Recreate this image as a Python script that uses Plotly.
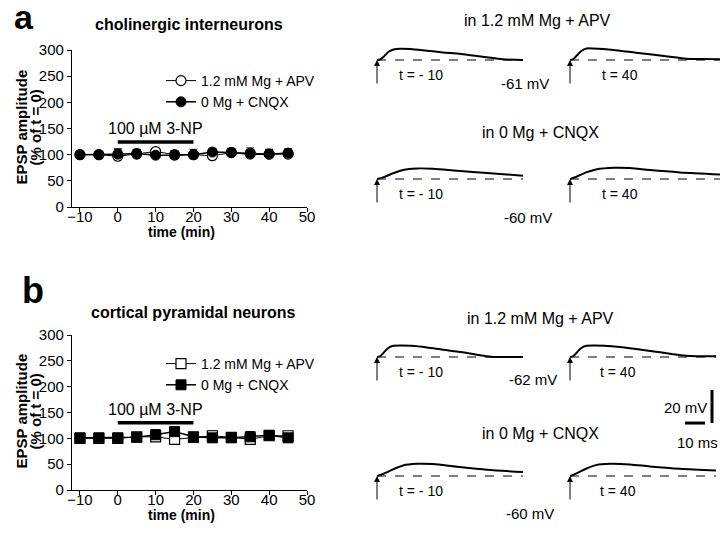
import plotly.graph_objects as go

W, H = 720, 538
FONT = "Liberation Sans, Arial, sans-serif"

# --- time course data (min, % of t = 0) ---
time_min = [-10, -5, 0, 5, 10, 15, 20, 25, 30, 35, 40, 45]

a_apv = [100, 100, 97, 101, 106, 100, 100, 98, 104, 103, 101, 101]
a_apv_err = [4, 2, 12, 8, 4, 8, 10, 8, 7, 10, 8, 8]
a_cnqx = [100, 100, 101, 102, 99, 99, 100, 105, 104, 101, 101, 103]
a_cnqx_err = [5, 2, 10, 8, 5, 7, 6, 6, 8, 6, 9, 8]

b_apv = [100, 100, 100, 103, 103, 98, 102, 105, 102, 98, 105, 105]
b_apv_err = [2, 2, 2, 8, 8, 6, 8, 10, 7, 8, 6, 5]
b_cnqx = [101, 101, 101, 102, 107, 113, 103, 101, 101, 103, 106, 101]
b_cnqx_err = [2, 2, 2, 6, 10, 4, 8, 6, 6, 10, 6, 6]

drug_on, drug_off = 0, 20
drug_label = "100 µM 3-NP"

# --- EPSP traces (ms, mV above baseline) ---
tr_a_apv_pre_t = [0, 1.7, 3.3, 5.8, 8.3, 11.7, 16.7, 25, 33, 42, 50, 58, 63, 73]
tr_a_apv_pre_v = [0, 0.4, 2.0, 5.0, 6.4, 6.8, 6.6, 5.6, 4.6, 3.6, 2.4, 1.2, 0.4, 0]
tr_a_apv_post_t = [0, 1.7, 3.3, 5.8, 8.3, 11.7, 16.7, 25, 33, 42, 50, 58, 66, 75]
tr_a_apv_post_v = [0, 0.6, 2.6, 5.6, 7.0, 7.0, 6.6, 5.6, 4.4, 3.2, 2.0, 0.8, 0.6, 0.4]
tr_a_cnqx_pre_t = [0, 3, 8, 13, 20, 28, 40, 55, 73]
tr_a_cnqx_pre_v = [0, 1.0, 3.5, 5.5, 6.4, 6.2, 5.0, 3.6, 2.0]
tr_a_cnqx_post_t = [0, 3, 8, 13, 22, 30, 40, 55, 75]
tr_a_cnqx_post_v = [0, 1.2, 4.0, 5.8, 6.8, 6.6, 5.4, 4.0, 2.8]

tr_b_apv_pre_t = [0, 1.7, 3.3, 5.8, 8.3, 12, 17, 25, 33, 42, 50, 57, 73]
tr_b_apv_pre_v = [0, 0.6, 2.6, 5.6, 6.8, 7.0, 6.8, 5.8, 4.4, 3.0, 1.4, 0.2, 0]
tr_b_apv_post_t = [0, 1.7, 3.3, 5.8, 8.3, 12, 17, 25, 33, 42, 50, 58, 73]
tr_b_apv_post_v = [0, 0.6, 2.6, 5.6, 6.8, 7.0, 6.8, 6.0, 4.8, 3.4, 2.0, 0.8, 0.4]
tr_b_cnqx_pre_t = [0, 3, 8, 13, 20, 28, 40, 55, 73]
tr_b_cnqx_pre_v = [0, 1.2, 4.0, 6.4, 7.4, 7.2, 5.6, 3.8, 2.4]
tr_b_cnqx_post_t = [0, 3, 8, 13, 20, 30, 40, 55, 73]
tr_b_cnqx_post_v = [0, 1.4, 4.4, 6.6, 7.4, 7.0, 5.8, 4.4, 3.4]

SCALE_MV = 20
SCALE_MS = 10


def px(x):
    return x / W


def py(y):
    return 1 - y / H


fig = go.Figure()
annos = []
shapes = []


def text(x, y, s, size=14, bold=False, anchor="center", angle=0):
    annos.append(dict(xref="paper", yref="paper", x=px(x), y=py(y),
                      text="<b>%s</b>" % s if bold else s, textangle=angle,
                      showarrow=False, xanchor=anchor, yanchor="middle",
                      font=dict(family=FONT, size=size, color="black")))


def time_course(n, ytop, ybot, apv, apv_err, cnqx, cnqx_err, sym, legend, bar_y):
    xa, ya = ("x", "y") if n == 1 else ("x%d" % n, "y%d" % n)
    fig.add_trace(go.Scatter(
        x=time_min, y=apv, mode="lines+markers", name="1.2 mM Mg + APV",
        xaxis=xa, yaxis=ya, legend=legend,
        line=dict(color="black", width=1),
        marker=dict(symbol=sym, size=10, color="white",
                    line=dict(color="black", width=1.2)),
        error_y=dict(type="data", symmetric=False, array=apv_err,
                     arrayminus=[0] * len(apv_err), color="#555",
                     thickness=1.2, width=4)))
    fig.add_trace(go.Scatter(
        x=time_min, y=cnqx, mode="lines+markers", name="0 Mg + CNQX",
        xaxis=xa, yaxis=ya, legend=legend,
        line=dict(color="black", width=1.5),
        marker=dict(symbol=sym, size=10, color="black",
                    line=dict(color="black", width=1)),
        error_y=dict(type="data", symmetric=False, array=cnqx_err,
                     arrayminus=[0] * len(cnqx_err), color="black",
                     thickness=1.2, width=4)))
    common = dict(showline=True, linecolor="black", linewidth=1.2,
                  ticks="outside", ticklen=4, tickcolor="black",
                  showgrid=False, zeroline=False, automargin=False,
                  tickfont=dict(family=FONT, size=15, color="black"))
    xkey = "xaxis" if n == 1 else "xaxis%d" % n
    ykey = "yaxis" if n == 1 else "yaxis%d" % n
    fig.update_layout(**{
        xkey: dict(domain=[px(72), px(307)], range=[-12.1, 50], ticklabelstandoff=-8,
                   tickvals=[-10, 0, 10, 20, 30, 40, 50], anchor=ya, **common),
        ykey: dict(domain=[py(ybot), py(ytop)], range=[0, 300],
                   tickvals=[0, 50, 100, 150, 200, 250, 300], anchor=xa, **common),
    })
    shapes.append(dict(type="line", xref=xa, yref=ya, x0=drug_on, x1=drug_off,
                       y0=bar_y, y1=bar_y, line=dict(color="black", width=3.5)))
    annos.append(dict(xref=xa, yref=ya, x=(drug_on + drug_off) / 2, y=bar_y + 6,
                      text=drug_label, showarrow=False, yanchor="bottom",
                      font=dict(family=FONT, size=16, color="black")))
    mid = (ytop + ybot) / 2
    text(21, mid - 1, "EPSP amplitude", size=15, bold=True, angle=-90)
    text(35, mid - 1, "(% of t = 0)", size=15, bold=True, angle=-90)
    text(181, ybot + 25, "time (min)", size=14, bold=True)


time_course(1, 50, 207, a_apv, a_apv_err, a_cnqx, a_cnqx_err, "circle", "legend", 124)
time_course(2, 335, 490, b_apv, b_apv_err, b_cnqx, b_cnqx_err, "square", "legend2", 130)

leg = dict(font=dict(family=FONT, size=14, color="black"), bgcolor="rgba(0,0,0,0)",
           itemwidth=30, tracegroupgap=0, xanchor="left", yanchor="top")
fig.update_layout(
    legend=dict(x=px(161), y=py(65), **leg),
    legend2=dict(x=px(161), y=py(348), **leg),
)

# --- sample EPSP records, each on its own small axis ---
traces = [
    (tr_a_apv_pre_t, tr_a_apv_pre_v, 377, 60, "t = - 10"),
    (tr_a_apv_post_t, tr_a_apv_post_v, 570, 60, "t = 40"),
    (tr_a_cnqx_pre_t, tr_a_cnqx_pre_v, 377, 179, "t = - 10"),
    (tr_a_cnqx_post_t, tr_a_cnqx_post_v, 570, 179, "t = 40"),
    (tr_b_apv_pre_t, tr_b_apv_pre_v, 377, 357, "t = - 10"),
    (tr_b_apv_post_t, tr_b_apv_post_v, 570, 357, "t = 40"),
    (tr_b_cnqx_pre_t, tr_b_cnqx_pre_v, 377, 476, "t = - 10"),
    (tr_b_cnqx_post_t, tr_b_cnqx_post_v, 570, 476, "t = 40"),
]
MS_PX = 2.0
MV_PX = 1.65
hidden = dict(visible=False, showgrid=False, zeroline=False, fixedrange=True,
              automargin=False)
for i, (t, v, x0, base, lab) in enumerate(traces):
    n = i + 3
    xa, ya = "x%d" % n, "y%d" % n
    fig.add_trace(go.Scatter(x=[0, t[-1]], y=[0, 0], mode="lines", xaxis=xa, yaxis=ya,
                             showlegend=False, line=dict(color="black", width=1, dash="dash")))
    fig.add_trace(go.Scatter(x=t, y=v, mode="lines", xaxis=xa, yaxis=ya, showlegend=False,
                             line=dict(color="black", width=2, shape="spline", smoothing=0.8)))
    fig.update_layout(**{
        "xaxis%d" % n: dict(domain=[px(x0), px(x0 + 150)], range=[0, 150 / MS_PX],
                            anchor=ya, **hidden),
        "yaxis%d" % n: dict(domain=[py(base + 15 * MV_PX), py(base - 10 * MV_PX)],
                            range=[-15, 10], anchor=xa, **hidden),
    })
    annos.append(dict(xref=xa, yref=ya, x=0, y=0, ax=0, ay=25, axref="pixel",
                      text="", showarrow=True, arrowhead=2, arrowsize=1.2,
                      arrowwidth=1, arrowcolor="black"))
    annos.append(dict(xref=xa, yref=ya, x=t[-1] * 0.3 if "10" in lab else t[-1] * 0.33,
                      y=0, yshift=-15, text=lab, showarrow=False,
                      font=dict(family=FONT, size=14, color="black")))

# scale bar
fig.add_trace(go.Scatter(x=[16, 16], y=[0, SCALE_MV], mode="lines", xaxis="x11", yaxis="y11",
                         showlegend=False, line=dict(color="black", width=3)))
fig.add_trace(go.Scatter(x=[2.5, 2.5 + SCALE_MS], y=[0, 0], mode="lines", xaxis="x11",
                         yaxis="y11", showlegend=False, line=dict(color="black", width=3)))
fig.update_layout(
    xaxis11=dict(domain=[px(680), px(716)], range=[0, 18], anchor="y11", **hidden),
    yaxis11=dict(domain=[py(428), py(388)], range=[-3, 21.2], anchor="x11", **hidden),
)

text(24, 17, "a", size=34, bold=True)
text(33, 290, "b", size=36, bold=True)
text(189, 24, "cholinergic interneurons", size=16, bold=True)
text(193, 312, "cortical pyramidal neurons", size=16, bold=True)
text(537, 20, "in 1.2 mM Mg + APV", size=16)
text(525, 83, "-61 mV", size=15)
text(540, 133, "in 0 Mg + CNQX", size=16)
text(528, 217, "-60 mV", size=15)
text(540, 318, "in 1.2 mM Mg + APV", size=16)
text(533, 379, "-62 mV", size=15)
text(540, 433, "in 0 Mg + CNQX", size=16)
text(530, 513, "-60 mV", size=15)
text(685, 407, "20 mV", size=15)
text(697, 442, "10 ms", size=15)

fig.update_layout(
    width=W, height=H, margin=dict(l=0, r=0, t=0, b=0, pad=0, autoexpand=False),
    paper_bgcolor="white", plot_bgcolor="white",
    annotations=annos, shapes=shapes,
    font=dict(family=FONT, color="black"),
)

fig.write_html("out.html", config={"displayModeBar": False},
               post_script="document.body.style.margin='0px';")
